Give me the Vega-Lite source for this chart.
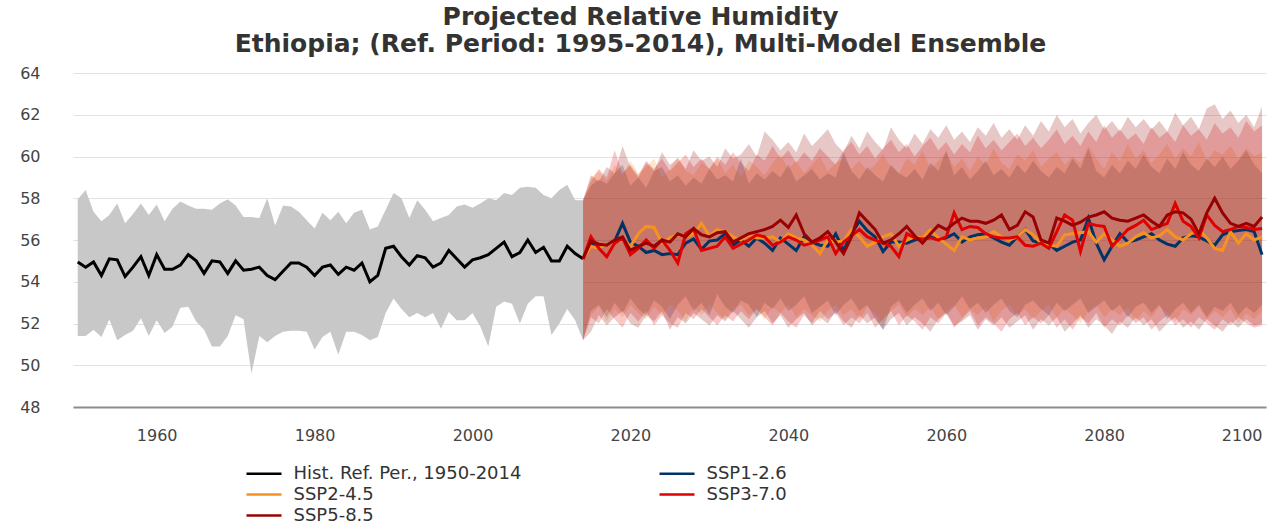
{
"$schema": "https://vega.github.io/schema/vega-lite/v6.json",
"width": 1193,
"height": 334,
"autosize": "none",
"padding": {"left": 73, "top": 73, "right": 14, "bottom": 117},
"background": "white",
"title": {"text": ["Projected Relative Humidity", "Ethiopia; (Ref. Period: 1995-2014), Multi-Model Ensemble"], "font": "DejaVu Sans", "fontSize": 25, "fontWeight": "bold", "color": "#333333", "anchor": "middle", "dx": -29, "offset": 8, "lineHeight": 27},
"config": {"view": {"stroke": null}},
"data": {"values": [
{"year":1950,"series":"Hist. Ref. Per., 1950-2014","value":54.95,"lo":51.4,"hi":57.95},
{"year":1951,"series":"Hist. Ref. Per., 1950-2014","value":54.7,"lo":51.4,"hi":58.4},
{"year":1952,"series":"Hist. Ref. Per., 1950-2014","value":54.95,"lo":51.7,"hi":57.35},
{"year":1953,"series":"Hist. Ref. Per., 1950-2014","value":54.3,"lo":51.35,"hi":56.9},
{"year":1954,"series":"Hist. Ref. Per., 1950-2014","value":55.1,"lo":52.2,"hi":57.2},
{"year":1955,"series":"Hist. Ref. Per., 1950-2014","value":55.05,"lo":51.2,"hi":57.75},
{"year":1956,"series":"Hist. Ref. Per., 1950-2014","value":54.25,"lo":51.45,"hi":56.8},
{"year":1957,"series":"Hist. Ref. Per., 1950-2014","value":54.7,"lo":51.65,"hi":57.25},
{"year":1958,"series":"Hist. Ref. Per., 1950-2014","value":55.2,"lo":52.25,"hi":57.75},
{"year":1959,"series":"Hist. Ref. Per., 1950-2014","value":54.3,"lo":51.4,"hi":57.2},
{"year":1960,"series":"Hist. Ref. Per., 1950-2014","value":55.3,"lo":52.15,"hi":57.7},
{"year":1961,"series":"Hist. Ref. Per., 1950-2014","value":54.6,"lo":51.55,"hi":56.9},
{"year":1962,"series":"Hist. Ref. Per., 1950-2014","value":54.6,"lo":51.85,"hi":57.5},
{"year":1963,"series":"Hist. Ref. Per., 1950-2014","value":54.8,"lo":52.75,"hi":57.85},
{"year":1964,"series":"Hist. Ref. Per., 1950-2014","value":55.3,"lo":52.8,"hi":57.65},
{"year":1965,"series":"Hist. Ref. Per., 1950-2014","value":55.0,"lo":52.1,"hi":57.5},
{"year":1966,"series":"Hist. Ref. Per., 1950-2014","value":54.4,"lo":51.7,"hi":57.5},
{"year":1967,"series":"Hist. Ref. Per., 1950-2014","value":55.0,"lo":50.9,"hi":57.45},
{"year":1968,"series":"Hist. Ref. Per., 1950-2014","value":54.95,"lo":50.9,"hi":57.75},
{"year":1969,"series":"Hist. Ref. Per., 1950-2014","value":54.4,"lo":51.4,"hi":57.95},
{"year":1970,"series":"Hist. Ref. Per., 1950-2014","value":55.0,"lo":52.4,"hi":57.65},
{"year":1971,"series":"Hist. Ref. Per., 1950-2014","value":54.55,"lo":52.2,"hi":57.1},
{"year":1972,"series":"Hist. Ref. Per., 1950-2014","value":54.6,"lo":49.6,"hi":57.1},
{"year":1973,"series":"Hist. Ref. Per., 1950-2014","value":54.7,"lo":51.4,"hi":57.05},
{"year":1974,"series":"Hist. Ref. Per., 1950-2014","value":54.3,"lo":51.1,"hi":58.0},
{"year":1975,"series":"Hist. Ref. Per., 1950-2014","value":54.1,"lo":51.4,"hi":56.7},
{"year":1976,"series":"Hist. Ref. Per., 1950-2014","value":54.5,"lo":51.6,"hi":57.65},
{"year":1977,"series":"Hist. Ref. Per., 1950-2014","value":54.9,"lo":51.65,"hi":57.6},
{"year":1978,"series":"Hist. Ref. Per., 1950-2014","value":54.9,"lo":51.65,"hi":57.35},
{"year":1979,"series":"Hist. Ref. Per., 1950-2014","value":54.7,"lo":51.6,"hi":56.95},
{"year":1980,"series":"Hist. Ref. Per., 1950-2014","value":54.3,"lo":50.75,"hi":56.55},
{"year":1981,"series":"Hist. Ref. Per., 1950-2014","value":54.7,"lo":51.35,"hi":57.3},
{"year":1982,"series":"Hist. Ref. Per., 1950-2014","value":54.8,"lo":51.6,"hi":56.95},
{"year":1983,"series":"Hist. Ref. Per., 1950-2014","value":54.35,"lo":50.5,"hi":57.35},
{"year":1984,"series":"Hist. Ref. Per., 1950-2014","value":54.7,"lo":51.6,"hi":56.8},
{"year":1985,"series":"Hist. Ref. Per., 1950-2014","value":54.55,"lo":51.6,"hi":57.3},
{"year":1986,"series":"Hist. Ref. Per., 1950-2014","value":54.9,"lo":51.45,"hi":57.45},
{"year":1987,"series":"Hist. Ref. Per., 1950-2014","value":54.0,"lo":51.2,"hi":56.5},
{"year":1988,"series":"Hist. Ref. Per., 1950-2014","value":54.3,"lo":51.35,"hi":56.65},
{"year":1989,"series":"Hist. Ref. Per., 1950-2014","value":55.6,"lo":52.5,"hi":57.45},
{"year":1990,"series":"Hist. Ref. Per., 1950-2014","value":55.7,"lo":53.2,"hi":58.25},
{"year":1991,"series":"Hist. Ref. Per., 1950-2014","value":55.2,"lo":52.7,"hi":58.0},
{"year":1992,"series":"Hist. Ref. Per., 1950-2014","value":54.8,"lo":52.3,"hi":57.05},
{"year":1993,"series":"Hist. Ref. Per., 1950-2014","value":55.25,"lo":52.5,"hi":57.9},
{"year":1994,"series":"Hist. Ref. Per., 1950-2014","value":55.15,"lo":52.3,"hi":57.45},
{"year":1995,"series":"Hist. Ref. Per., 1950-2014","value":54.7,"lo":52.5,"hi":56.9},
{"year":1996,"series":"Hist. Ref. Per., 1950-2014","value":54.9,"lo":51.75,"hi":57.05},
{"year":1997,"series":"Hist. Ref. Per., 1950-2014","value":55.5,"lo":52.55,"hi":57.2},
{"year":1998,"series":"Hist. Ref. Per., 1950-2014","value":55.1,"lo":52.15,"hi":57.6},
{"year":1999,"series":"Hist. Ref. Per., 1950-2014","value":54.7,"lo":52.15,"hi":57.7},
{"year":2000,"series":"Hist. Ref. Per., 1950-2014","value":55.05,"lo":52.5,"hi":57.55},
{"year":2001,"series":"Hist. Ref. Per., 1950-2014","value":55.15,"lo":51.85,"hi":57.75},
{"year":2002,"series":"Hist. Ref. Per., 1950-2014","value":55.3,"lo":50.9,"hi":58.0},
{"year":2003,"series":"Hist. Ref. Per., 1950-2014","value":55.6,"lo":52.8,"hi":57.9},
{"year":2004,"series":"Hist. Ref. Per., 1950-2014","value":55.9,"lo":53.05,"hi":58.25},
{"year":2005,"series":"Hist. Ref. Per., 1950-2014","value":55.2,"lo":52.95,"hi":58.15},
{"year":2006,"series":"Hist. Ref. Per., 1950-2014","value":55.4,"lo":52.0,"hi":58.5},
{"year":2007,"series":"Hist. Ref. Per., 1950-2014","value":56.0,"lo":52.95,"hi":58.55},
{"year":2008,"series":"Hist. Ref. Per., 1950-2014","value":55.4,"lo":53.3,"hi":58.5},
{"year":2009,"series":"Hist. Ref. Per., 1950-2014","value":55.65,"lo":53.3,"hi":58.15},
{"year":2010,"series":"Hist. Ref. Per., 1950-2014","value":55.0,"lo":51.45,"hi":58.0},
{"year":2011,"series":"Hist. Ref. Per., 1950-2014","value":55.0,"lo":52.0,"hi":58.4},
{"year":2012,"series":"Hist. Ref. Per., 1950-2014","value":55.7,"lo":52.7,"hi":58.65},
{"year":2013,"series":"Hist. Ref. Per., 1950-2014","value":55.35,"lo":52.15,"hi":57.9},
{"year":2014,"series":"Hist. Ref. Per., 1950-2014","value":55.1,"lo":51.2,"hi":57.9},

{"year":2014,"series":"SSP1-2.6","value":55.1,"lo":51.2,"hi":57.9},
{"year":2015,"series":"SSP1-2.6","value":55.85,"lo":52.6,"hi":58.6},
{"year":2016,"series":"SSP1-2.6","value":55.6,"lo":52.9,"hi":58.9},
{"year":2017,"series":"SSP1-2.6","value":55.75,"lo":52.3,"hi":58.7},
{"year":2018,"series":"SSP1-2.6","value":55.95,"lo":53.0,"hi":59.2},
{"year":2019,"series":"SSP1-2.6","value":56.8,"lo":52.5,"hi":59.6},
{"year":2020,"series":"SSP1-2.6","value":55.9,"lo":53.2,"hi":58.6},
{"year":2021,"series":"SSP1-2.6","value":55.7,"lo":52.7,"hi":59.0},
{"year":2022,"series":"SSP1-2.6","value":55.4,"lo":52.4,"hi":58.5},
{"year":2023,"series":"SSP1-2.6","value":55.5,"lo":53.1,"hi":59.3},
{"year":2024,"series":"SSP1-2.6","value":55.3,"lo":52.8,"hi":59.5},
{"year":2025,"series":"SSP1-2.6","value":55.35,"lo":52.2,"hi":58.8},
{"year":2026,"series":"SSP1-2.6","value":55.3,"lo":52.9,"hi":59.1},
{"year":2027,"series":"SSP1-2.6","value":55.85,"lo":53.3,"hi":58.6},
{"year":2028,"series":"SSP1-2.6","value":56.05,"lo":52.6,"hi":59.0},
{"year":2029,"series":"SSP1-2.6","value":55.55,"lo":53.0,"hi":58.7},
{"year":2030,"series":"SSP1-2.6","value":55.95,"lo":52.4,"hi":59.4},
{"year":2031,"series":"SSP1-2.6","value":56.0,"lo":53.4,"hi":58.9},
{"year":2032,"series":"SSP1-2.6","value":56.3,"lo":52.8,"hi":59.1},
{"year":2033,"series":"SSP1-2.6","value":55.75,"lo":52.5,"hi":58.8},
{"year":2034,"series":"SSP1-2.6","value":56.0,"lo":53.1,"hi":59.9},
{"year":2035,"series":"SSP1-2.6","value":55.7,"lo":52.9,"hi":58.7},
{"year":2036,"series":"SSP1-2.6","value":56.1,"lo":52.3,"hi":59.2},
{"year":2037,"series":"SSP1-2.6","value":55.85,"lo":53.0,"hi":58.9},
{"year":2038,"series":"SSP1-2.6","value":55.5,"lo":52.7,"hi":59.3},
{"year":2039,"series":"SSP1-2.6","value":56.1,"lo":53.2,"hi":59.0},
{"year":2040,"series":"SSP1-2.6","value":55.8,"lo":52.6,"hi":59.6},
{"year":2041,"series":"SSP1-2.6","value":55.5,"lo":52.9,"hi":58.8},
{"year":2042,"series":"SSP1-2.6","value":56.15,"lo":53.3,"hi":59.1},
{"year":2043,"series":"SSP1-2.6","value":55.9,"lo":52.5,"hi":59.4},
{"year":2044,"series":"SSP1-2.6","value":55.75,"lo":52.8,"hi":58.9},
{"year":2045,"series":"SSP1-2.6","value":55.7,"lo":53.1,"hi":59.2},
{"year":2046,"series":"SSP1-2.6","value":56.3,"lo":52.4,"hi":59.0},
{"year":2047,"series":"SSP1-2.6","value":55.5,"lo":52.9,"hi":60.2},
{"year":2048,"series":"SSP1-2.6","value":56.3,"lo":53.2,"hi":59.3},
{"year":2049,"series":"SSP1-2.6","value":56.9,"lo":52.6,"hi":58.9},
{"year":2050,"series":"SSP1-2.6","value":56.45,"lo":52.9,"hi":59.5},
{"year":2051,"series":"SSP1-2.6","value":56.15,"lo":52.2,"hi":59.1},
{"year":2052,"series":"SSP1-2.6","value":55.45,"lo":51.7,"hi":58.8},
{"year":2053,"series":"SSP1-2.6","value":55.9,"lo":52.8,"hi":59.6},
{"year":2054,"series":"SSP1-2.6","value":55.9,"lo":53.1,"hi":59.2},
{"year":2055,"series":"SSP1-2.6","value":55.85,"lo":52.5,"hi":59.0},
{"year":2056,"series":"SSP1-2.6","value":56.0,"lo":52.9,"hi":59.4},
{"year":2057,"series":"SSP1-2.6","value":56.1,"lo":53.2,"hi":58.9},
{"year":2058,"series":"SSP1-2.6","value":56.15,"lo":52.6,"hi":59.7},
{"year":2059,"series":"SSP1-2.6","value":56.0,"lo":53.0,"hi":59.3},
{"year":2060,"series":"SSP1-2.6","value":56.1,"lo":52.4,"hi":60.3},
{"year":2061,"series":"SSP1-2.6","value":56.3,"lo":52.8,"hi":59.1},
{"year":2062,"series":"SSP1-2.6","value":55.9,"lo":53.3,"hi":59.5},
{"year":2063,"series":"SSP1-2.6","value":56.15,"lo":52.7,"hi":58.9},
{"year":2064,"series":"SSP1-2.6","value":56.25,"lo":53.0,"hi":59.3},
{"year":2065,"series":"SSP1-2.6","value":56.3,"lo":52.5,"hi":59.8},
{"year":2066,"series":"SSP1-2.6","value":56.1,"lo":52.9,"hi":59.1},
{"year":2067,"series":"SSP1-2.6","value":55.9,"lo":53.2,"hi":59.4},
{"year":2068,"series":"SSP1-2.6","value":55.75,"lo":52.6,"hi":59.0},
{"year":2069,"series":"SSP1-2.6","value":56.15,"lo":52.3,"hi":59.6},
{"year":2070,"series":"SSP1-2.6","value":56.5,"lo":52.9,"hi":59.2},
{"year":2071,"series":"SSP1-2.6","value":55.95,"lo":53.1,"hi":59.8},
{"year":2072,"series":"SSP1-2.6","value":55.85,"lo":52.7,"hi":59.3},
{"year":2073,"series":"SSP1-2.6","value":55.8,"lo":52.4,"hi":59.0},
{"year":2074,"series":"SSP1-2.6","value":55.5,"lo":53.0,"hi":59.5},
{"year":2075,"series":"SSP1-2.6","value":55.7,"lo":52.6,"hi":59.2},
{"year":2076,"series":"SSP1-2.6","value":55.9,"lo":52.9,"hi":59.9},
{"year":2077,"series":"SSP1-2.6","value":56.0,"lo":53.2,"hi":59.4},
{"year":2078,"series":"SSP1-2.6","value":57.05,"lo":52.5,"hi":60.4},
{"year":2079,"series":"SSP1-2.6","value":55.85,"lo":52.8,"hi":59.3},
{"year":2080,"series":"SSP1-2.6","value":55.05,"lo":53.1,"hi":59.0},
{"year":2081,"series":"SSP1-2.6","value":55.7,"lo":52.6,"hi":59.6},
{"year":2082,"series":"SSP1-2.6","value":56.3,"lo":52.9,"hi":59.2},
{"year":2083,"series":"SSP1-2.6","value":55.9,"lo":52.3,"hi":59.8},
{"year":2084,"series":"SSP1-2.6","value":56.0,"lo":52.8,"hi":59.4},
{"year":2085,"series":"SSP1-2.6","value":56.15,"lo":53.0,"hi":60.1},
{"year":2086,"series":"SSP1-2.6","value":56.3,"lo":52.5,"hi":59.5},
{"year":2087,"series":"SSP1-2.6","value":56.0,"lo":52.9,"hi":59.2},
{"year":2088,"series":"SSP1-2.6","value":55.8,"lo":52.2,"hi":59.9},
{"year":2089,"series":"SSP1-2.6","value":55.7,"lo":52.7,"hi":59.4},
{"year":2090,"series":"SSP1-2.6","value":56.1,"lo":53.0,"hi":60.2},
{"year":2091,"series":"SSP1-2.6","value":56.2,"lo":52.5,"hi":59.6},
{"year":2092,"series":"SSP1-2.6","value":56.15,"lo":52.9,"hi":59.3},
{"year":2093,"series":"SSP1-2.6","value":55.95,"lo":52.3,"hi":59.9},
{"year":2094,"series":"SSP1-2.6","value":55.75,"lo":52.8,"hi":59.5},
{"year":2095,"series":"SSP1-2.6","value":56.25,"lo":52.6,"hi":60.0},
{"year":2096,"series":"SSP1-2.6","value":56.4,"lo":53.0,"hi":59.4},
{"year":2097,"series":"SSP1-2.6","value":56.45,"lo":52.4,"hi":59.8},
{"year":2098,"series":"SSP1-2.6","value":56.5,"lo":52.8,"hi":60.3},
{"year":2099,"series":"SSP1-2.6","value":56.4,"lo":52.5,"hi":59.6},
{"year":2100,"series":"SSP1-2.6","value":55.3,"lo":52.9,"hi":59.2},

{"year":2014,"series":"SSP2-4.5","value":55.1,"lo":51.2,"hi":57.9},
{"year":2015,"series":"SSP2-4.5","value":55.7,"lo":52.4,"hi":59.0},
{"year":2016,"series":"SSP2-4.5","value":55.6,"lo":52.8,"hi":59.3},
{"year":2017,"series":"SSP2-4.5","value":55.75,"lo":52.1,"hi":58.8},
{"year":2018,"series":"SSP2-4.5","value":55.9,"lo":52.7,"hi":59.6},
{"year":2019,"series":"SSP2-4.5","value":56.0,"lo":52.3,"hi":59.1},
{"year":2020,"series":"SSP2-4.5","value":55.7,"lo":52.9,"hi":59.8},
{"year":2021,"series":"SSP2-4.5","value":56.3,"lo":52.5,"hi":59.2},
{"year":2022,"series":"SSP2-4.5","value":56.65,"lo":52.2,"hi":59.5},
{"year":2023,"series":"SSP2-4.5","value":56.6,"lo":52.8,"hi":59.9},
{"year":2024,"series":"SSP2-4.5","value":55.85,"lo":52.4,"hi":59.0},
{"year":2025,"series":"SSP2-4.5","value":56.1,"lo":52.9,"hi":59.4},
{"year":2026,"series":"SSP2-4.5","value":56.25,"lo":52.6,"hi":60.0},
{"year":2027,"series":"SSP2-4.5","value":56.15,"lo":52.1,"hi":59.3},
{"year":2028,"series":"SSP2-4.5","value":56.3,"lo":52.8,"hi":59.1},
{"year":2029,"series":"SSP2-4.5","value":56.8,"lo":52.4,"hi":59.7},
{"year":2030,"series":"SSP2-4.5","value":56.2,"lo":52.9,"hi":59.4},
{"year":2031,"series":"SSP2-4.5","value":56.5,"lo":52.5,"hi":59.9},
{"year":2032,"series":"SSP2-4.5","value":56.4,"lo":52.2,"hi":59.2},
{"year":2033,"series":"SSP2-4.5","value":56.15,"lo":52.7,"hi":59.6},
{"year":2034,"series":"SSP2-4.5","value":56.0,"lo":52.9,"hi":59.0},
{"year":2035,"series":"SSP2-4.5","value":56.25,"lo":52.4,"hi":59.8},
{"year":2036,"series":"SSP2-4.5","value":56.1,"lo":52.7,"hi":59.5},
{"year":2037,"series":"SSP2-4.5","value":56.1,"lo":52.2,"hi":59.1},
{"year":2038,"series":"SSP2-4.5","value":56.15,"lo":52.8,"hi":59.7},
{"year":2039,"series":"SSP2-4.5","value":55.9,"lo":52.5,"hi":60.1},
{"year":2040,"series":"SSP2-4.5","value":56.3,"lo":52.9,"hi":59.4},
{"year":2041,"series":"SSP2-4.5","value":56.1,"lo":52.3,"hi":59.8},
{"year":2042,"series":"SSP2-4.5","value":56.0,"lo":52.7,"hi":59.2},
{"year":2043,"series":"SSP2-4.5","value":55.75,"lo":52.4,"hi":59.6},
{"year":2044,"series":"SSP2-4.5","value":55.35,"lo":52.1,"hi":60.0},
{"year":2045,"series":"SSP2-4.5","value":56.0,"lo":52.6,"hi":59.3},
{"year":2046,"series":"SSP2-4.5","value":55.9,"lo":52.9,"hi":59.7},
{"year":2047,"series":"SSP2-4.5","value":55.95,"lo":52.4,"hi":59.9},
{"year":2048,"series":"SSP2-4.5","value":56.5,"lo":52.7,"hi":59.4},
{"year":2049,"series":"SSP2-4.5","value":56.15,"lo":52.2,"hi":59.8},
{"year":2050,"series":"SSP2-4.5","value":55.7,"lo":52.8,"hi":59.3},
{"year":2051,"series":"SSP2-4.5","value":55.9,"lo":52.5,"hi":59.6},
{"year":2052,"series":"SSP2-4.5","value":56.15,"lo":52.0,"hi":60.1},
{"year":2053,"series":"SSP2-4.5","value":56.3,"lo":52.6,"hi":59.5},
{"year":2054,"series":"SSP2-4.5","value":55.7,"lo":52.9,"hi":59.2},
{"year":2055,"series":"SSP2-4.5","value":56.0,"lo":52.3,"hi":59.9},
{"year":2056,"series":"SSP2-4.5","value":56.15,"lo":52.7,"hi":59.6},
{"year":2057,"series":"SSP2-4.5","value":56.1,"lo":52.4,"hi":60.3},
{"year":2058,"series":"SSP2-4.5","value":56.5,"lo":52.8,"hi":59.4},
{"year":2059,"series":"SSP2-4.5","value":56.1,"lo":52.2,"hi":59.8},
{"year":2060,"series":"SSP2-4.5","value":55.8,"lo":52.6,"hi":60.2},
{"year":2061,"series":"SSP2-4.5","value":55.5,"lo":52.9,"hi":59.5},
{"year":2062,"series":"SSP2-4.5","value":56.15,"lo":52.3,"hi":59.9},
{"year":2063,"series":"SSP2-4.5","value":56.0,"lo":52.7,"hi":59.3},
{"year":2064,"series":"SSP2-4.5","value":56.1,"lo":52.4,"hi":60.0},
{"year":2065,"series":"SSP2-4.5","value":56.15,"lo":52.8,"hi":59.6},
{"year":2066,"series":"SSP2-4.5","value":56.4,"lo":52.1,"hi":60.4},
{"year":2067,"series":"SSP2-4.5","value":56.15,"lo":52.6,"hi":59.7},
{"year":2068,"series":"SSP2-4.5","value":56.0,"lo":52.9,"hi":59.4},
{"year":2069,"series":"SSP2-4.5","value":56.15,"lo":52.4,"hi":60.1},
{"year":2070,"series":"SSP2-4.5","value":56.5,"lo":52.7,"hi":59.8},
{"year":2071,"series":"SSP2-4.5","value":56.25,"lo":52.2,"hi":60.3},
{"year":2072,"series":"SSP2-4.5","value":55.85,"lo":52.6,"hi":59.5},
{"year":2073,"series":"SSP2-4.5","value":55.75,"lo":52.9,"hi":59.9},
{"year":2074,"series":"SSP2-4.5","value":55.7,"lo":52.3,"hi":60.2},
{"year":2075,"series":"SSP2-4.5","value":56.25,"lo":52.7,"hi":59.6},
{"year":2076,"series":"SSP2-4.5","value":56.3,"lo":52.4,"hi":60.0},
{"year":2077,"series":"SSP2-4.5","value":56.35,"lo":52.0,"hi":59.7},
{"year":2078,"series":"SSP2-4.5","value":56.4,"lo":52.6,"hi":60.5},
{"year":2079,"series":"SSP2-4.5","value":55.9,"lo":52.9,"hi":59.9},
{"year":2080,"series":"SSP2-4.5","value":56.3,"lo":52.3,"hi":59.4},
{"year":2081,"series":"SSP2-4.5","value":56.0,"lo":52.7,"hi":60.2},
{"year":2082,"series":"SSP2-4.5","value":55.7,"lo":52.4,"hi":59.8},
{"year":2083,"series":"SSP2-4.5","value":55.85,"lo":52.8,"hi":60.6},
{"year":2084,"series":"SSP2-4.5","value":56.15,"lo":52.1,"hi":59.9},
{"year":2085,"series":"SSP2-4.5","value":56.35,"lo":52.6,"hi":60.3},
{"year":2086,"series":"SSP2-4.5","value":56.1,"lo":52.3,"hi":59.7},
{"year":2087,"series":"SSP2-4.5","value":56.2,"lo":52.8,"hi":60.1},
{"year":2088,"series":"SSP2-4.5","value":56.5,"lo":52.5,"hi":60.6},
{"year":2089,"series":"SSP2-4.5","value":56.15,"lo":52.1,"hi":59.9},
{"year":2090,"series":"SSP2-4.5","value":56.0,"lo":52.7,"hi":60.4},
{"year":2091,"series":"SSP2-4.5","value":56.3,"lo":52.4,"hi":60.0},
{"year":2092,"series":"SSP2-4.5","value":56.5,"lo":52.8,"hi":60.7},
{"year":2093,"series":"SSP2-4.5","value":56.1,"lo":52.2,"hi":59.8},
{"year":2094,"series":"SSP2-4.5","value":55.6,"lo":52.6,"hi":60.3},
{"year":2095,"series":"SSP2-4.5","value":55.5,"lo":52.3,"hi":60.1},
{"year":2096,"series":"SSP2-4.5","value":56.4,"lo":52.7,"hi":60.5},
{"year":2097,"series":"SSP2-4.5","value":55.85,"lo":52.0,"hi":59.9},
{"year":2098,"series":"SSP2-4.5","value":56.3,"lo":52.5,"hi":60.4},
{"year":2099,"series":"SSP2-4.5","value":56.0,"lo":52.2,"hi":60.0},
{"year":2100,"series":"SSP2-4.5","value":56.15,"lo":52.6,"hi":60.2},

{"year":2014,"series":"SSP3-7.0","value":55.1,"lo":51.2,"hi":57.9},
{"year":2015,"series":"SSP3-7.0","value":56.15,"lo":52.3,"hi":58.8},
{"year":2016,"series":"SSP3-7.0","value":55.6,"lo":52.0,"hi":59.4},
{"year":2017,"series":"SSP3-7.0","value":55.2,"lo":52.7,"hi":59.0},
{"year":2018,"series":"SSP3-7.0","value":55.85,"lo":52.2,"hi":60.3},
{"year":2019,"series":"SSP3-7.0","value":56.1,"lo":51.8,"hi":59.2},
{"year":2020,"series":"SSP3-7.0","value":55.3,"lo":52.5,"hi":59.6},
{"year":2021,"series":"SSP3-7.0","value":55.6,"lo":52.1,"hi":59.1},
{"year":2022,"series":"SSP3-7.0","value":56.0,"lo":52.6,"hi":59.8},
{"year":2023,"series":"SSP3-7.0","value":55.6,"lo":51.9,"hi":59.4},
{"year":2024,"series":"SSP3-7.0","value":56.0,"lo":52.4,"hi":59.9},
{"year":2025,"series":"SSP3-7.0","value":55.5,"lo":52.0,"hi":59.3},
{"year":2026,"series":"SSP3-7.0","value":54.9,"lo":51.8,"hi":59.7},
{"year":2027,"series":"SSP3-7.0","value":56.3,"lo":52.5,"hi":60.1},
{"year":2028,"series":"SSP3-7.0","value":56.55,"lo":52.2,"hi":59.5},
{"year":2029,"series":"SSP3-7.0","value":55.5,"lo":52.7,"hi":59.9},
{"year":2030,"series":"SSP3-7.0","value":55.6,"lo":52.3,"hi":59.4},
{"year":2031,"series":"SSP3-7.0","value":55.7,"lo":51.9,"hi":60.0},
{"year":2032,"series":"SSP3-7.0","value":56.15,"lo":52.4,"hi":59.6},
{"year":2033,"series":"SSP3-7.0","value":55.6,"lo":52.1,"hi":60.2},
{"year":2034,"series":"SSP3-7.0","value":55.8,"lo":52.6,"hi":59.7},
{"year":2035,"series":"SSP3-7.0","value":56.0,"lo":52.2,"hi":59.3},
{"year":2036,"series":"SSP3-7.0","value":56.25,"lo":52.7,"hi":60.1},
{"year":2037,"series":"SSP3-7.0","value":56.15,"lo":52.3,"hi":59.8},
{"year":2038,"series":"SSP3-7.0","value":55.75,"lo":51.9,"hi":60.5},
{"year":2039,"series":"SSP3-7.0","value":55.9,"lo":52.5,"hi":59.9},
{"year":2040,"series":"SSP3-7.0","value":56.15,"lo":52.1,"hi":60.3},
{"year":2041,"series":"SSP3-7.0","value":56.0,"lo":51.8,"hi":59.7},
{"year":2042,"series":"SSP3-7.0","value":55.75,"lo":52.4,"hi":60.2},
{"year":2043,"series":"SSP3-7.0","value":55.85,"lo":52.0,"hi":59.8},
{"year":2044,"series":"SSP3-7.0","value":56.0,"lo":52.6,"hi":60.4},
{"year":2045,"series":"SSP3-7.0","value":56.15,"lo":52.2,"hi":60.0},
{"year":2046,"series":"SSP3-7.0","value":55.35,"lo":52.5,"hi":59.6},
{"year":2047,"series":"SSP3-7.0","value":55.9,"lo":51.9,"hi":60.3},
{"year":2048,"series":"SSP3-7.0","value":56.2,"lo":52.3,"hi":60.7},
{"year":2049,"series":"SSP3-7.0","value":56.5,"lo":52.0,"hi":60.1},
{"year":2050,"series":"SSP3-7.0","value":56.15,"lo":52.5,"hi":60.5},
{"year":2051,"series":"SSP3-7.0","value":56.0,"lo":51.8,"hi":59.9},
{"year":2052,"series":"SSP3-7.0","value":55.85,"lo":52.2,"hi":60.4},
{"year":2053,"series":"SSP3-7.0","value":55.7,"lo":52.6,"hi":60.8},
{"year":2054,"series":"SSP3-7.0","value":55.2,"lo":51.9,"hi":60.2},
{"year":2055,"series":"SSP3-7.0","value":56.3,"lo":52.4,"hi":60.6},
{"year":2056,"series":"SSP3-7.0","value":56.1,"lo":52.1,"hi":60.0},
{"year":2057,"series":"SSP3-7.0","value":56.05,"lo":51.7,"hi":60.5},
{"year":2058,"series":"SSP3-7.0","value":56.1,"lo":52.3,"hi":60.9},
{"year":2059,"series":"SSP3-7.0","value":56.0,"lo":52.0,"hi":60.3},
{"year":2060,"series":"SSP3-7.0","value":56.15,"lo":52.5,"hi":60.7},
{"year":2061,"series":"SSP3-7.0","value":57.3,"lo":51.8,"hi":60.1},
{"year":2062,"series":"SSP3-7.0","value":56.5,"lo":52.2,"hi":60.6},
{"year":2063,"series":"SSP3-7.0","value":56.65,"lo":52.6,"hi":60.2},
{"year":2064,"series":"SSP3-7.0","value":56.6,"lo":51.9,"hi":61.0},
{"year":2065,"series":"SSP3-7.0","value":56.3,"lo":52.3,"hi":60.4},
{"year":2066,"series":"SSP3-7.0","value":56.15,"lo":52.0,"hi":60.8},
{"year":2067,"series":"SSP3-7.0","value":56.1,"lo":51.6,"hi":60.3},
{"year":2068,"series":"SSP3-7.0","value":56.1,"lo":52.2,"hi":60.7},
{"year":2069,"series":"SSP3-7.0","value":56.15,"lo":52.5,"hi":61.1},
{"year":2070,"series":"SSP3-7.0","value":55.75,"lo":51.9,"hi":60.5},
{"year":2071,"series":"SSP3-7.0","value":55.7,"lo":52.3,"hi":60.9},
{"year":2072,"series":"SSP3-7.0","value":55.85,"lo":52.0,"hi":60.4},
{"year":2073,"series":"SSP3-7.0","value":55.6,"lo":52.4,"hi":60.8},
{"year":2074,"series":"SSP3-7.0","value":56.4,"lo":51.8,"hi":61.3},
{"year":2075,"series":"SSP3-7.0","value":57.2,"lo":52.2,"hi":60.6},
{"year":2076,"series":"SSP3-7.0","value":56.95,"lo":51.7,"hi":61.0},
{"year":2077,"series":"SSP3-7.0","value":55.45,"lo":52.3,"hi":60.5},
{"year":2078,"series":"SSP3-7.0","value":56.8,"lo":52.0,"hi":61.2},
{"year":2079,"series":"SSP3-7.0","value":56.7,"lo":52.5,"hi":60.7},
{"year":2080,"series":"SSP3-7.0","value":56.65,"lo":51.8,"hi":61.5},
{"year":2081,"series":"SSP3-7.0","value":55.7,"lo":52.2,"hi":60.9},
{"year":2082,"series":"SSP3-7.0","value":56.1,"lo":51.9,"hi":61.3},
{"year":2083,"series":"SSP3-7.0","value":56.5,"lo":52.4,"hi":60.8},
{"year":2084,"series":"SSP3-7.0","value":56.7,"lo":52.0,"hi":61.1},
{"year":2085,"series":"SSP3-7.0","value":56.95,"lo":52.3,"hi":60.6},
{"year":2086,"series":"SSP3-7.0","value":56.5,"lo":51.7,"hi":61.4},
{"year":2087,"series":"SSP3-7.0","value":56.65,"lo":52.1,"hi":60.9},
{"year":2088,"series":"SSP3-7.0","value":56.8,"lo":52.4,"hi":61.2},
{"year":2089,"series":"SSP3-7.0","value":57.75,"lo":51.9,"hi":60.7},
{"year":2090,"series":"SSP3-7.0","value":56.9,"lo":52.2,"hi":61.5},
{"year":2091,"series":"SSP3-7.0","value":56.65,"lo":51.8,"hi":61.0},
{"year":2092,"series":"SSP3-7.0","value":56.1,"lo":52.3,"hi":61.3},
{"year":2093,"series":"SSP3-7.0","value":57.2,"lo":52.0,"hi":60.8},
{"year":2094,"series":"SSP3-7.0","value":56.7,"lo":51.7,"hi":61.6},
{"year":2095,"series":"SSP3-7.0","value":56.4,"lo":52.2,"hi":61.1},
{"year":2096,"series":"SSP3-7.0","value":56.5,"lo":51.9,"hi":61.4},
{"year":2097,"series":"SSP3-7.0","value":56.65,"lo":52.3,"hi":60.9},
{"year":2098,"series":"SSP3-7.0","value":56.6,"lo":52.0,"hi":61.7},
{"year":2099,"series":"SSP3-7.0","value":56.5,"lo":51.8,"hi":61.2},
{"year":2100,"series":"SSP3-7.0","value":56.55,"lo":51.9,"hi":61.5},

{"year":2014,"series":"SSP5-8.5","value":55.1,"lo":51.2,"hi":57.9},
{"year":2015,"series":"SSP5-8.5","value":55.95,"lo":51.6,"hi":59.1},
{"year":2016,"series":"SSP5-8.5","value":55.8,"lo":52.4,"hi":58.8},
{"year":2017,"series":"SSP5-8.5","value":55.75,"lo":51.9,"hi":59.5},
{"year":2018,"series":"SSP5-8.5","value":56.0,"lo":52.3,"hi":59.2},
{"year":2019,"series":"SSP5-8.5","value":56.15,"lo":52.6,"hi":60.5},
{"year":2020,"series":"SSP5-8.5","value":55.5,"lo":52.0,"hi":59.5},
{"year":2021,"series":"SSP5-8.5","value":55.7,"lo":51.8,"hi":59.0},
{"year":2022,"series":"SSP5-8.5","value":55.85,"lo":52.4,"hi":59.7},
{"year":2023,"series":"SSP5-8.5","value":55.7,"lo":52.1,"hi":59.3},
{"year":2024,"series":"SSP5-8.5","value":56.0,"lo":52.6,"hi":60.2},
{"year":2025,"series":"SSP5-8.5","value":55.9,"lo":51.7,"hi":59.6},
{"year":2026,"series":"SSP5-8.5","value":56.3,"lo":52.3,"hi":59.9},
{"year":2027,"series":"SSP5-8.5","value":56.15,"lo":52.0,"hi":59.4},
{"year":2028,"series":"SSP5-8.5","value":56.55,"lo":52.5,"hi":60.3},
{"year":2029,"series":"SSP5-8.5","value":56.25,"lo":52.2,"hi":59.8},
{"year":2030,"series":"SSP5-8.5","value":56.15,"lo":51.9,"hi":60.0},
{"year":2031,"series":"SSP5-8.5","value":56.35,"lo":52.4,"hi":59.5},
{"year":2032,"series":"SSP5-8.5","value":56.4,"lo":52.1,"hi":60.4},
{"year":2033,"series":"SSP5-8.5","value":55.9,"lo":52.6,"hi":59.9},
{"year":2034,"series":"SSP5-8.5","value":56.1,"lo":52.2,"hi":60.1},
{"year":2035,"series":"SSP5-8.5","value":56.3,"lo":51.8,"hi":60.6},
{"year":2036,"series":"SSP5-8.5","value":56.4,"lo":52.3,"hi":60.0},
{"year":2037,"series":"SSP5-8.5","value":56.5,"lo":52.6,"hi":61.2},
{"year":2038,"series":"SSP5-8.5","value":56.65,"lo":52.0,"hi":60.8},
{"year":2039,"series":"SSP5-8.5","value":56.95,"lo":52.4,"hi":60.3},
{"year":2040,"series":"SSP5-8.5","value":56.6,"lo":51.8,"hi":60.7},
{"year":2041,"series":"SSP5-8.5","value":57.2,"lo":52.2,"hi":60.2},
{"year":2042,"series":"SSP5-8.5","value":56.3,"lo":52.5,"hi":61.1},
{"year":2043,"series":"SSP5-8.5","value":55.9,"lo":51.9,"hi":60.5},
{"year":2044,"series":"SSP5-8.5","value":56.1,"lo":52.3,"hi":60.9},
{"year":2045,"series":"SSP5-8.5","value":56.4,"lo":52.0,"hi":61.3},
{"year":2046,"series":"SSP5-8.5","value":55.9,"lo":52.6,"hi":60.6},
{"year":2047,"series":"SSP5-8.5","value":55.35,"lo":52.1,"hi":60.2},
{"year":2048,"series":"SSP5-8.5","value":56.15,"lo":51.8,"hi":61.0},
{"year":2049,"series":"SSP5-8.5","value":57.3,"lo":52.4,"hi":60.4},
{"year":2050,"series":"SSP5-8.5","value":56.9,"lo":52.0,"hi":61.2},
{"year":2051,"series":"SSP5-8.5","value":56.5,"lo":52.3,"hi":60.7},
{"year":2052,"series":"SSP5-8.5","value":55.85,"lo":51.7,"hi":60.3},
{"year":2053,"series":"SSP5-8.5","value":56.0,"lo":52.2,"hi":61.4},
{"year":2054,"series":"SSP5-8.5","value":56.3,"lo":52.5,"hi":60.8},
{"year":2055,"series":"SSP5-8.5","value":56.65,"lo":51.9,"hi":60.4},
{"year":2056,"series":"SSP5-8.5","value":56.2,"lo":52.3,"hi":61.1},
{"year":2057,"series":"SSP5-8.5","value":55.85,"lo":52.0,"hi":60.6},
{"year":2058,"series":"SSP5-8.5","value":56.3,"lo":51.6,"hi":61.3},
{"year":2059,"series":"SSP5-8.5","value":56.7,"lo":52.2,"hi":60.9},
{"year":2060,"series":"SSP5-8.5","value":56.5,"lo":52.5,"hi":61.5},
{"year":2061,"series":"SSP5-8.5","value":56.8,"lo":51.9,"hi":60.8},
{"year":2062,"series":"SSP5-8.5","value":57.05,"lo":52.1,"hi":61.2},
{"year":2063,"series":"SSP5-8.5","value":56.9,"lo":52.4,"hi":60.7},
{"year":2064,"series":"SSP5-8.5","value":56.9,"lo":51.7,"hi":61.4},
{"year":2065,"series":"SSP5-8.5","value":56.8,"lo":52.2,"hi":61.0},
{"year":2066,"series":"SSP5-8.5","value":56.95,"lo":51.9,"hi":61.6},
{"year":2067,"series":"SSP5-8.5","value":57.2,"lo":52.3,"hi":60.9},
{"year":2068,"series":"SSP5-8.5","value":56.5,"lo":51.8,"hi":61.3},
{"year":2069,"series":"SSP5-8.5","value":56.7,"lo":52.1,"hi":60.8},
{"year":2070,"series":"SSP5-8.5","value":57.35,"lo":52.4,"hi":61.5},
{"year":2071,"series":"SSP5-8.5","value":57.1,"lo":51.7,"hi":61.0},
{"year":2072,"series":"SSP5-8.5","value":56.0,"lo":52.2,"hi":61.7},
{"year":2073,"series":"SSP5-8.5","value":55.85,"lo":51.9,"hi":61.2},
{"year":2074,"series":"SSP5-8.5","value":57.05,"lo":52.3,"hi":62.0},
{"year":2075,"series":"SSP5-8.5","value":56.9,"lo":51.6,"hi":61.4},
{"year":2076,"series":"SSP5-8.5","value":56.7,"lo":52.0,"hi":61.8},
{"year":2077,"series":"SSP5-8.5","value":56.85,"lo":52.4,"hi":61.1},
{"year":2078,"series":"SSP5-8.5","value":57.1,"lo":51.8,"hi":61.6},
{"year":2079,"series":"SSP5-8.5","value":57.2,"lo":52.2,"hi":62.0},
{"year":2080,"series":"SSP5-8.5","value":57.35,"lo":51.9,"hi":61.3},
{"year":2081,"series":"SSP5-8.5","value":57.05,"lo":51.5,"hi":61.7},
{"year":2082,"series":"SSP5-8.5","value":56.95,"lo":52.1,"hi":61.2},
{"year":2083,"series":"SSP5-8.5","value":56.9,"lo":51.8,"hi":61.9},
{"year":2084,"series":"SSP5-8.5","value":57.05,"lo":52.3,"hi":61.4},
{"year":2085,"series":"SSP5-8.5","value":57.2,"lo":51.9,"hi":61.8},
{"year":2086,"series":"SSP5-8.5","value":56.9,"lo":52.2,"hi":61.3},
{"year":2087,"series":"SSP5-8.5","value":56.65,"lo":51.6,"hi":61.7},
{"year":2088,"series":"SSP5-8.5","value":57.2,"lo":52.0,"hi":61.2},
{"year":2089,"series":"SSP5-8.5","value":57.35,"lo":52.3,"hi":62.1},
{"year":2090,"series":"SSP5-8.5","value":57.3,"lo":51.8,"hi":61.5},
{"year":2091,"series":"SSP5-8.5","value":57.0,"lo":52.1,"hi":61.9},
{"year":2092,"series":"SSP5-8.5","value":56.3,"lo":51.7,"hi":61.3},
{"year":2093,"series":"SSP5-8.5","value":57.3,"lo":52.2,"hi":62.3},
{"year":2094,"series":"SSP5-8.5","value":58.0,"lo":51.9,"hi":62.5},
{"year":2095,"series":"SSP5-8.5","value":57.3,"lo":51.6,"hi":61.8},
{"year":2096,"series":"SSP5-8.5","value":56.8,"lo":52.1,"hi":62.2},
{"year":2097,"series":"SSP5-8.5","value":56.65,"lo":51.8,"hi":61.6},
{"year":2098,"series":"SSP5-8.5","value":56.8,"lo":52.2,"hi":62.0},
{"year":2099,"series":"SSP5-8.5","value":56.65,"lo":51.9,"hi":61.4},
{"year":2100,"series":"SSP5-8.5","value":57.1,"lo":52.0,"hi":62.4}
]},
"encoding": {
  "x": {"field": "year", "type": "quantitative", "scale": {"domain": [1949.4, 2100.5], "nice": false, "zero": false},
    "axis": {"title": null, "values": [1960, 1980, 2000, 2020, 2040, 2060, 2080, 2100], "format": "d", "grid": false, "ticks": false, "domain": true, "domainColor": "#8c8c8c", "domainWidth": 2, "labelPadding": 20, "labelFont": "DejaVu Sans", "labelFontSize": 16, "labelColor": "#444444", "labelAlign": {"condition": {"test": "datum.value == 2100", "value": "right"}, "value": "center"}}}
},
"layer": [
  {"transform": [{"filter": "datum.series == 'Hist. Ref. Per., 1950-2014'"}],
   "mark": {"type": "area", "color": "#c8c8c8", "opacity": 1},
   "encoding": {
     "y": {"field": "lo", "type": "quantitative", "scale": {"domain": [48, 64], "nice": false, "zero": false},
       "axis": {"title": null, "values": [48, 50, 52, 54, 56, 58, 60, 62, 64], "grid": true, "gridColor": "#e2e2e2", "gridWidth": 1, "domain": false, "ticks": false, "labelPadding": 33, "labelFont": "DejaVu Sans", "labelFontSize": 16, "labelColor": "#444444"}},
     "y2": {"field": "hi"}
   }},
  {"transform": [{"filter": "datum.series != 'Hist. Ref. Per., 1950-2014'"}],
   "mark": {"type": "area", "fillOpacity": 0.22},
   "encoding": {
     "y": {"field": "lo", "type": "quantitative"},
     "y2": {"field": "hi"},
     "fill": {"field": "series", "type": "nominal", "legend": null,
       "scale": {"domain": ["SSP1-2.6", "SSP2-4.5", "SSP3-7.0", "SSP5-8.5"], "range": ["#003466", "#f69320", "#df0000", "#980002"]}}
   }},
  {"mark": {"type": "line", "strokeWidth": 3, "strokeJoin": "miter"},
   "encoding": {
     "y": {"field": "value", "type": "quantitative"},
     "color": {"field": "series", "type": "nominal",
       "scale": {"domain": ["Hist. Ref. Per., 1950-2014", "SSP1-2.6", "SSP2-4.5", "SSP3-7.0", "SSP5-8.5"], "range": ["#000000", "#003466", "#f69320", "#df0000", "#980002"]},
       "legend": {"title": null, "orient": "none", "legendX": 179.5, "legendY": 389, "direction": "horizontal", "columns": 2, "columnPadding": 133, "rowPadding": 0, "symbolType": "M-1.75,0H1.75", "symbolSize": 400, "symbolStrokeWidth": 2.5, "labelFont": "DejaVu Sans", "labelFontSize": 18, "labelColor": "#333333", "labelOffset": 18, "labelLimit": 0, "padding": 0}}
   }}
]
}
